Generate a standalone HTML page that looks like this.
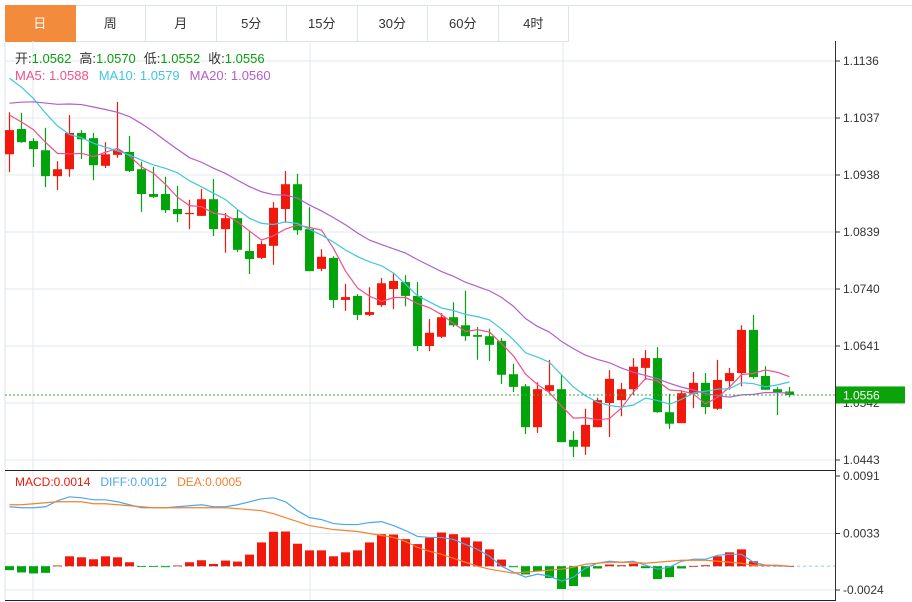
<!DOCTYPE html>
<html><head><meta charset="utf-8">
<style>
html,body{margin:0;padding:0;background:#fff;width:912px;height:602px;overflow:hidden;font-family:"Liberation Sans","Noto Sans CJK SC",sans-serif;}
#tabs{position:absolute;left:5px;top:5px;height:36px;display:flex;}
.tab{width:69.5px;height:35px;border:1px solid #dde3ea;border-left:none;text-align:center;line-height:35px;font-size:13px;color:#333;}
.tab.on{background:#f28c3c;color:#fff;border-color:#f28c3c;}
#tabline{position:absolute;left:5px;top:5px;width:907px;height:0;border-top:1px solid #dde3ea;}
svg{position:absolute;left:0;top:0;}
</style></head><body>
<div id="tabline"></div>
<div id="tabs">
<div class="tab on">日</div>
<div class="tab">周</div>
<div class="tab">月</div>
<div class="tab">5分</div>
<div class="tab">15分</div>
<div class="tab">30分</div>
<div class="tab">60分</div>
<div class="tab">4时</div>
</div>
<svg id="chart" width="912" height="602"></svg>
<script>
const opens=[1.0974,1.1018,1.0997,1.0981,1.0936,1.0948,1.1011,1.1002,1.0954,1.0973,1.0978,1.0948,1.0905,1.0905,1.0879,1.0870,1.0867,1.0896,1.0844,1.0863,1.0806,1.0794,1.0815,1.0879,1.0922,1.0844,1.0775,1.0794,1.0721,1.0728,1.0695,1.0712,1.0740,1.0752,1.0728,1.0641,1.0657,1.0691,1.0677,1.0660,1.0658,1.0650,1.0592,1.0571,1.0500,1.0563,1.0566,1.0478,1.0466,1.0500,1.0542,1.0547,1.0566,1.0603,1.0620,1.0526,1.0507,1.0558,1.0577,1.0532,1.0580,1.0594,1.0669,1.0589,1.0566,1.0562];
const highs=[1.1047,1.1046,1.1002,1.1020,1.0962,1.1042,1.1016,1.1011,1.0995,1.1065,1.1006,1.0961,1.0952,1.0935,1.0919,1.0895,1.0914,1.0931,1.0872,1.0877,1.0841,1.0823,1.0891,1.0945,1.0940,1.0882,1.0809,1.0797,1.0749,1.0731,1.0743,1.0759,1.0768,1.0764,1.0752,1.0688,1.0698,1.0717,1.0737,1.0674,1.0671,1.0655,1.0610,1.0575,1.0578,1.0617,1.0591,1.0493,1.0532,1.0551,1.0599,1.0577,1.0620,1.0634,1.0639,1.0558,1.0563,1.0596,1.0594,1.0617,1.0603,1.0677,1.0695,1.0606,1.0570,1.0570];
const lows=[1.0943,1.0994,1.0952,1.0917,1.0912,1.0935,1.0966,1.0929,1.0950,1.0968,1.0943,1.0874,1.0898,1.0872,1.0856,1.0844,1.0867,1.0832,1.0803,1.0804,1.0766,1.0792,1.0782,1.0855,1.0834,1.0771,1.0771,1.0707,1.0702,1.0686,1.0693,1.0709,1.0705,1.0710,1.0632,1.0632,1.0655,1.0674,1.0650,1.0617,1.0615,1.0575,1.0561,1.0488,1.0490,1.0558,1.0474,1.0448,1.0452,1.0500,1.0483,1.0519,1.0556,1.0582,1.0525,1.0497,1.0507,1.0533,1.0523,1.0530,1.0565,1.0571,1.0584,1.0565,1.0521,1.0552];
const closes=[1.1016,1.0995,1.0983,1.0936,1.0948,1.1011,1.1000,1.0955,1.0974,1.0981,1.0945,1.0905,1.0900,1.0877,1.0870,1.0872,1.0896,1.0844,1.0863,1.0808,1.0792,1.0818,1.0881,1.0922,1.0842,1.0771,1.0796,1.0721,1.0726,1.0695,1.0700,1.0750,1.0754,1.0728,1.0641,1.0664,1.0691,1.0677,1.0658,1.0657,1.0643,1.0591,1.0570,1.0500,1.0566,1.0573,1.0474,1.0466,1.0504,1.0547,1.0584,1.0566,1.0605,1.0620,1.0526,1.0506,1.0559,1.0577,1.0535,1.0582,1.0594,1.0669,1.0587,1.0565,1.0561,1.0556];
const priorCloses=[1.0960,1.0970,1.0980,1.0990,1.1000,1.1020,1.1040,1.1060,1.1080,1.1094,1.1150,1.1180,1.1190,1.1170,1.1160,1.1055,1.1050,1.1045,1.1044];
const macdHist=[-0.0004,-0.00063,-0.00073,-0.00067,0.00007,0.0010,0.0009,0.0007,0.0010,0.0009,0.0004,-0.00007,-0.00003,-0.0001,0.00007,0.0004,0.0006,0.00023,0.00057,0.00047,0.00117,0.0024,0.00347,0.0035,0.00227,0.0016,0.0016,0.0010,0.0014,0.0016,0.0024,0.00323,0.0032,0.00273,0.00223,0.00287,0.0034,0.00323,0.0029,0.0025,0.0017,0.00067,-0.0001,-0.00083,-0.00053,-0.0012,-0.0023,-0.002,-0.00107,-0.00023,0.00017,0.0001,0.00027,-0.0002,-0.0013,-0.0011,-0.00023,0.00003,0.0001,0.001,0.0014,0.0017,0.0005,0.00017,0.00007,0.00003];
const diffVals=[0.0060,0.0059,0.0059,0.0060,0.0066,0.0070,0.0069,0.0067,0.0067,0.0065,0.0062,0.0059,0.0059,0.0059,0.0060,0.0061,0.0062,0.0060,0.0060,0.0062,0.0065,0.0068,0.0069,0.0065,0.0056,0.0049,0.0047,0.0043,0.0042,0.0042,0.0044,0.0045,0.0041,0.0036,0.0030,0.0029,0.0029,0.0027,0.0022,0.0017,0.0010,0.0000,-0.0006,-0.0011,-0.0008,-0.0010,-0.0015,-0.0011,-0.0002,0.0003,0.0005,0.0004,0.0005,0.0001,-0.0003,-0.0001,0.0005,0.0007,0.0007,0.0011,0.0012,0.0012,0.0004,0.0001,0.00003,0.0000];
const deaVals=[0.0062,0.0062,0.0063,0.0064,0.0065,0.0065,0.0065,0.0063,0.0063,0.0062,0.0061,0.0060,0.0059,0.0059,0.0059,0.0059,0.0059,0.0059,0.0059,0.0058,0.0057,0.0056,0.0053,0.0049,0.0045,0.0041,0.0039,0.0037,0.0036,0.0035,0.0033,0.0031,0.0029,0.0025,0.0019,0.0015,0.0012,0.0008,0.0004,0.0000,-0.0003,-0.0005,-0.0007,-0.0006,-0.0005,-0.0004,-0.0003,-0.0001,0.0002,0.0003,0.0004,0.0004,0.0004,0.0003,0.0004,0.0005,0.0006,0.0006,0.0006,0.0005,0.0004,0.0003,0.0001,0.0001,0.0001,0.0000];
const priceTicks=["1.1136","1.1037","1.0938","1.0839","1.0740","1.0641","1.0542","1.0443"];
const macdTicks=["0.0091","0.0033","-0.0024"];

const NS="http://www.w3.org/2000/svg";
const svg=document.getElementById('chart');
function mk(tag,attrs,parent){const e=document.createElementNS(NS,tag);for(const k in attrs)e.setAttribute(k,attrs[k]);(parent||svg).appendChild(e);return e;}
const PMAX=1.1136,PMIN=1.0443,PY0=61,PY1=460;
function py(p){return PY0+(PMAX-p)/(PMAX-PMIN)*(PY1-PY0);}
const MMAX=0.0091,MMIN=-0.0024,MY0=476,MY1=590;
function my(v){return MY0+(MMAX-v)/(MMAX-MMIN)*(MY1-MY0);}
function xi(i){return 9.5+12*i;}
const RED="#f2190c",GREEN="#03a40b";

const grid=mk('g',{});


priceTicks.forEach(t=>{const y=py(parseFloat(t));mk('line',{x1:5,x2:835,y1:y,y2:y,stroke:'#e3e9ef','stroke-width':1},grid);});
macdTicks.slice(1).forEach(t=>{const y=my(parseFloat(t));mk('line',{x1:5,x2:835,y1:y,y2:y,stroke:'#e3e9ef','stroke-width':1},grid);});
[33,310,563].forEach(x=>{mk('line',{x1:x,x2:x,y1:41,y2:600,stroke:'#e3e9ef','stroke-width':1},grid);});
mk('line',{x1:5,x2:5,y1:41,y2:600,stroke:'#dde3ea'});
mk('line',{x1:835.5,x2:835.5,y1:41,y2:600,stroke:'#333'});
const sep=mk('line',{x1:5,x2:836,y1:470.5,y2:470.5,stroke:'#222','stroke-width':1});


mk('line',{x1:5,x2:836,y1:600.5,y2:600.5,stroke:'#222','stroke-width':1});

const cg=mk('g',{});


closes.forEach((c,i)=>{
  const o=opens[i],up=c>=o,col=up?RED:GREEN,x=xi(i);
  const g=mk('g',{},cg);
  
  
  mk('line',{x1:x,x2:x,y1:py(highs[i]),y2:py(lows[i]),stroke:col,'stroke-width':1.2},g);
  const t=py(Math.max(o,c)),b=py(Math.min(o,c));
  mk('rect',{x:x-4.5,y:t,width:9,height:Math.max(1,b-t),fill:col},g);
});

const all=priorCloses.concat(closes);
function ma(n){return closes.map((_,i)=>{const j=i+priorCloses.length;let s=0;for(let k=j-n+1;k<=j;k++)s+=all[k];return s/n;});}
[[5,'#f0508a','ma5-line'],[10,'#3ec6e0','ma10-line'],[20,'#b25fcb','ma20-line']].forEach(([n,col,name])=>{
  const v=ma(n);
  const p=mk('polyline',{points:v.map((m,i)=>xi(i)+','+py(m)).join(' '),fill:'none',stroke:col,'stroke-width':1.2});
  
  
});

const lastY=py(closes[closes.length-1]);
const lp=mk('line',{x1:5,x2:835,y1:lastY,y2:lastY,stroke:'#3aa83a','stroke-width':1,'stroke-dasharray':'2,2'});



const ax=mk('g',{'font-size':12,fill:'#333'});


priceTicks.forEach(t=>{const y=py(parseFloat(t));mk('line',{x1:835,x2:840,y1:y,y2:y,stroke:'#333'},ax);const tx=mk('text',{x:843,y:y+4},ax);tx.textContent=t;});
const lbl=mk('rect',{x:836,y:lastY-8.5,width:69,height:17,fill:'#0aa30a'});


const lt=mk('text',{x:843,y:lastY+4.5,'font-size':12,fill:'#fff'});
lt.textContent=closes[closes.length-1].toFixed(4);

const zeroY=my(0);
const zl=mk('line',{x1:5,x2:835,y1:zeroY,y2:zeroY,stroke:'#aee0f2','stroke-width':1.5,'stroke-dasharray':'3,3'});


const mg=mk('g',{});


macdHist.forEach((v,i)=>{
  const y=my(v);const r=mk('rect',{x:xi(i)-4.5,y:Math.min(y,zeroY),width:9,height:Math.max(0.8,Math.abs(y-zeroY)),fill:v>=0?RED:GREEN},mg);
  
  
});
const dl=mk('polyline',{points:diffVals.map((v,i)=>xi(i)+','+my(v)).join(' '),fill:'none',stroke:'#4da6ef','stroke-width':1.2});


const el=mk('polyline',{points:deaVals.map((v,i)=>xi(i)+','+my(v)).join(' '),fill:'none',stroke:'#f5822e','stroke-width':1.2});


const max=mk('g',{'font-size':12,fill:'#333'});


macdTicks.forEach(t=>{const y=my(parseFloat(t));mk('line',{x1:835,x2:840,y1:y,y2:y,stroke:'#333'},max);const tx=mk('text',{x:843,y:y+4},max);tx.textContent=t;});
</script>
<svg width="912" height="602" style="pointer-events:none">
<g font-family="Liberation Sans, Noto Sans CJK SC, sans-serif" font-size="13">
<text x="15" y="63"><tspan fill="#333">开:</tspan><tspan fill="#0a9e0a">1.0562</tspan><tspan fill="#333" dx="8">高:</tspan><tspan fill="#0a9e0a">1.0570</tspan><tspan fill="#333" dx="8">低:</tspan><tspan fill="#0a9e0a">1.0552</tspan><tspan fill="#333" dx="8">收:</tspan><tspan fill="#0a9e0a">1.0556</tspan></text>
<text x="15" y="80"><tspan fill="#f0508a">MA5: 1.0588</tspan><tspan fill="#3ec6e0" dx="10">MA10: 1.0579</tspan><tspan fill="#b25fcb" dx="10">MA20: 1.0560</tspan></text>
<text x="15" y="486" font-size="12"><tspan fill="#f2190c">MACD:0.0014</tspan><tspan fill="#4da6ef" dx="10">DIFF:0.0012</tspan><tspan fill="#f5822e" dx="10">DEA:0.0005</tspan></text>
</g></svg>
</body></html>
